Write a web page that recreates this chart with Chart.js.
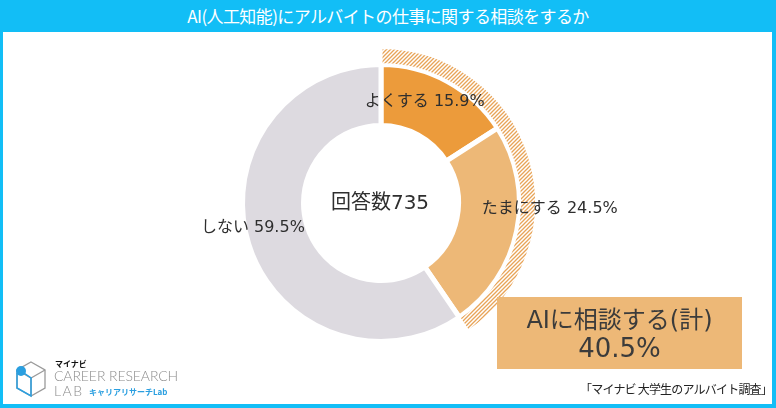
<!DOCTYPE html>
<html><head><meta charset="utf-8">
<script src="https://cdn.jsdelivr.net/npm/chart.js@4.4.1/dist/chart.umd.min.js"></script>
<style>
html,body{margin:0;padding:0;}
body{width:776px;height:408px;position:relative;overflow:hidden;background:#fff;font-family:"Noto Sans CJK JP","Noto Sans",sans-serif;}
#frame{position:absolute;left:0;top:0;width:776px;height:408px;box-sizing:border-box;border-left:3px solid #12BEF6;border-right:4px solid #12BEF6;border-bottom:4px solid #12BEF6;}
#title{position:absolute;left:0;top:0;width:776px;height:32px;background:#12BEF6;color:#fff;font-size:17px;line-height:32px;text-align:center;letter-spacing:-0.6px;}
#chartwrap{position:absolute;left:0;top:0;width:776px;height:408px;}
#box{position:absolute;left:497px;top:297px;width:245px;height:72px;background:#EDB877;color:#3b3b3b;text-align:center;font-family:"DejaVu Sans","Noto Sans CJK JP",sans-serif;}
#box .l1{position:absolute;left:0;width:100%;top:9px;font-size:24px;line-height:28px;}
#box .l2{position:absolute;left:0;width:100%;top:37px;font-size:26px;line-height:28px;}
#source{position:absolute;right:4px;top:381px;font-size:12px;line-height:16px;color:#222;letter-spacing:-0.8px;}
#logo{position:absolute;left:0;top:355px;width:200px;height:50px;}
#logo .mn{position:absolute;left:55px;top:4px;font-size:8px;font-weight:bold;color:#111;line-height:10px;}
#logo .cr{position:absolute;left:54px;top:13px;font-family:Lato,sans-serif;font-weight:300;font-size:14px;color:#8c8c8c;line-height:16px;letter-spacing:-0.1px;}
#logo .lab{position:absolute;left:54px;top:28px;font-family:Lato,sans-serif;font-weight:300;font-size:14px;color:#8c8c8c;line-height:16px;letter-spacing:1.5px;}
#logo .kl{position:absolute;left:89px;top:32px;font-size:8px;font-weight:bold;color:#2a9fe0;line-height:10px;}
</style></head>
<body>
<div id="chartwrap"><canvas id="c" width="776" height="408"></canvas></div>
<div id="frame"></div>
<div id="title">AI(人工知能)にアルバイトの仕事に関する相談をするか</div>
<div id="box"><div class="l1">AIに相談する(計)</div><div class="l2">40.5%</div></div>
<div id="source">「マイナビ 大学生のアルバイト調査」</div>
<div id="logo">
<svg width="50" height="50" style="position:absolute;left:0;top:0">
<polygon points="31,7 45,15 45,33 31,41 17,33 17,15" fill="none" stroke="#9a9a9a" stroke-width="1.3"/>
<polyline points="17,15 31,23 45,15" fill="none" stroke="#9a9a9a" stroke-width="1.3"/>
<line x1="31" y1="23" x2="31" y2="41" stroke="#9a9a9a" stroke-width="1.3"/>
<polyline points="21,16 31,23 31,41 17,33 17,18" fill="none" stroke="#2a9fe0" stroke-width="1.5"/>
<circle cx="21" cy="16" r="5" fill="#2a9fe0"/>
</svg>
<div class="mn">マイナビ</div>
<div class="cr">CAREER RESEARCH</div>
<div class="lab">LAB</div>
<div class="kl">キャリアリサーチLab</div>
</div>
<script>
// ---- data ----
const categories = ['よくする', 'たまにする', 'しない'];
const values = [15.9, 24.5, 59.5];
const respondentLabel = '回答数';
const respondents = 735;
const combinedValue = 40.5;
const combinedRest = 59.5;

const colors = ['#EC9B3B', '#EDB877', '#DDDAE0'];
const labelFont = '"DejaVu Sans", "Noto Sans CJK JP"';

function makeHatch() {
  const p = document.createElement('canvas');
  p.width = 4; p.height = 4;
  const g = p.getContext('2d');
  g.fillStyle = '#ffffff';
  g.fillRect(0, 0, 4, 4);
  g.strokeStyle = '#E8A458';
  g.lineWidth = 1.3;
  g.beginPath();
  g.moveTo(-1, 5); g.lineTo(5, -1);
  g.moveTo(-1, 1); g.lineTo(1, -1);
  g.moveTo(3, 5); g.lineTo(5, 3);
  g.stroke();
  return g.createPattern(p, 'repeat');
}

const labelPlace = [
  {align: 'center', dx: -8, dy: -6},
  {align: 'left', dx: -5, dy: -16},
  {align: 'right', dx: 27, dy: -7}
];

const labelPlugin = {
  id: 'sliceLabels',
  afterDatasetsDraw(chart) {
    const ctx = chart.ctx;
    const meta = chart.getDatasetMeta(1);
    ctx.save();
    ctx.fillStyle = '#2e2e2e';
    ctx.textBaseline = 'middle';
    ctx.font = '16px ' + labelFont;
    meta.data.forEach((arc, i) => {
      const p = arc.tooltipPosition();
      const c = labelPlace[i];
      ctx.textAlign = c.align;
      ctx.fillText(categories[i] + ' ' + values[i].toFixed(1) + '%', p.x + c.dx, p.y + c.dy);
    });
    ctx.font = '20px ' + labelFont;
    ctx.textAlign = 'center';
    const a = meta.data[0];
    ctx.fillText(respondentLabel + respondents, a.x - 1, a.y + 1);
    ctx.restore();
  }
};

new Chart(document.getElementById('c'), {
  type: 'doughnut',
  data: {
    labels: categories,
    datasets: [
      {
        data: [combinedValue, combinedRest],
        backgroundColor: [makeHatch(), 'rgba(0,0,0,0)'],
        borderColor: '#ffffff',
        borderWidth: [3, 0],
        weight: 17
      },
      {
        data: values,
        backgroundColor: colors,
        borderColor: '#ffffff',
        borderWidth: 5,
        weight: 61
      }
    ]
  },
  options: {
    responsive: false,
    animation: false,
    radius: 155.5,
    cutout: '49.84%',
    layout: {padding: {left: 221, right: 235, top: 43, bottom: 45}},
    plugins: {legend: {display: false}, tooltip: {enabled: false}},
    events: []
  },
  plugins: [labelPlugin]
});
</script>
</body></html>
